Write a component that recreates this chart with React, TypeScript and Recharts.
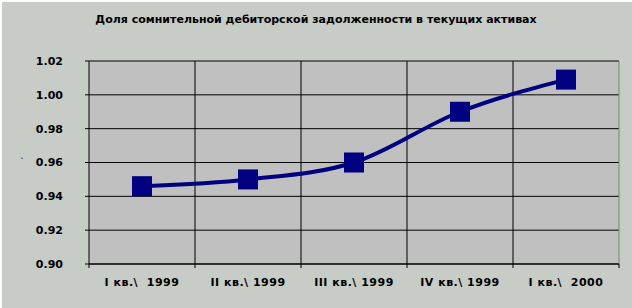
import React from "react";
import { LineChart, Line, XAxis, YAxis, CartesianGrid, ReferenceLine } from "recharts";

// Quarters and the share of doubtful receivables in current assets.
const QUARTERS = ["I кв.\\  1999", "II кв.\\ 1999", "III кв.\\ 1999", "IV кв.\\ 1999", "I кв.\\  2000"];
const SHARE = [0.946, 0.95, 0.96, 0.99, 1.009];
const Y_TICKS = [0.9, 0.92, 0.94, 0.96, 0.98, 1.0, 1.02];
const X_TICKS = [0, 0.5, 1, 1.5, 2, 2.5, 3, 3.5, 4, 4.5, 5];
const BOUNDARIES = [1, 2, 3, 4];

const FONT = "'DejaVu Sans', Verdana, sans-serif";
const NAVY = "#000080";

const rows = QUARTERS.map((q, i) => ({ pos: i + 0.5, quarter: q, share: SHARE[i] }));

function XTick(props: any) {
  const { x, y, payload } = props;
  const v = payload.value as number;
  if (Number.isInteger(v)) {
    return <line x1={x} x2={x} y1={y - 8} y2={y - 4} stroke="#000" />;
  }
  return (
    <text
      x={x}
      y={y + 14}
      textAnchor="middle"
      fontFamily={FONT}
      fontSize={11}
      fontWeight="bold"
      letterSpacing={0.5}
      fill="#000"
      style={{ whiteSpace: "pre" }}
    >
      {QUARTERS[Math.floor(v)]}
    </text>
  );
}

function SquareDot(props: any) {
  const { cx, cy, index } = props;
  return <rect key={index} x={cx - 10} y={cy - 10} width={20} height={20} fill={NAVY} />;
}

export default function App() {
  return (
    <div
      style={{
        position: "absolute",
        left: 0,
        top: 0,
        width: 632,
        height: 308,
        background: "#c8ccc6",
        boxShadow: "inset 2px 2px 0 #fff",
      }}
    >
      <div
        style={{
          position: "absolute",
          top: 13,
          left: 0,
          width: 632,
          textAlign: "center",
          fontFamily: FONT,
          fontSize: 11,
          fontWeight: "bold",
          color: "#000",
        }}
      >
        Доля сомнительной дебиторской задолженности в текущих активах
      </div>
      <div style={{ position: "absolute", left: 20, top: 157, fontFamily: FONT, fontSize: 9, color: "#000" }}>`</div>
      <LineChart
        width={632}
        height={308}
        data={rows}
        margin={{ top: 61, right: 13, left: 0, bottom: 0 }}
        style={{ position: "absolute", left: 0, top: 0 }}
      >
        <CartesianGrid
          vertical={false}
          stroke="#000"
          strokeOpacity={1}
          fill="#c0c0c0"
          fillOpacity={1}
        />
        {BOUNDARIES.map((b) => (
          <ReferenceLine key={b} x={b} stroke="#000" strokeWidth={1} />
        ))}
        <ReferenceLine x={5} stroke="#808080" strokeWidth={1} />
        <XAxis
          dataKey="pos"
          type="number"
          domain={[0, 5]}
          ticks={X_TICKS}
          interval={0}
          tickLine={false}
          axisLine={{ stroke: "#000" }}
          tick={<XTick />}
          height={44}
        />
        <YAxis
          type="number"
          domain={[0.9, 1.02]}
          ticks={Y_TICKS}
          interval={0}
          tickFormatter={(v: number) => v.toFixed(2)}
          tickSize={4}
          tickMargin={22}
          tickLine={{ stroke: "#000" }}
          axisLine={{ stroke: "#000" }}
          tick={{ fontFamily: FONT, fontSize: 11, fontWeight: "bold", fill: "#000" }}
          width={89}
        />
        <Line
          dataKey="share"
          type="monotone"
          stroke={NAVY}
          strokeWidth={4}
          dot={<SquareDot />}
          activeDot={false}
          isAnimationActive={false}
        />
      </LineChart>
    </div>
  );
}
